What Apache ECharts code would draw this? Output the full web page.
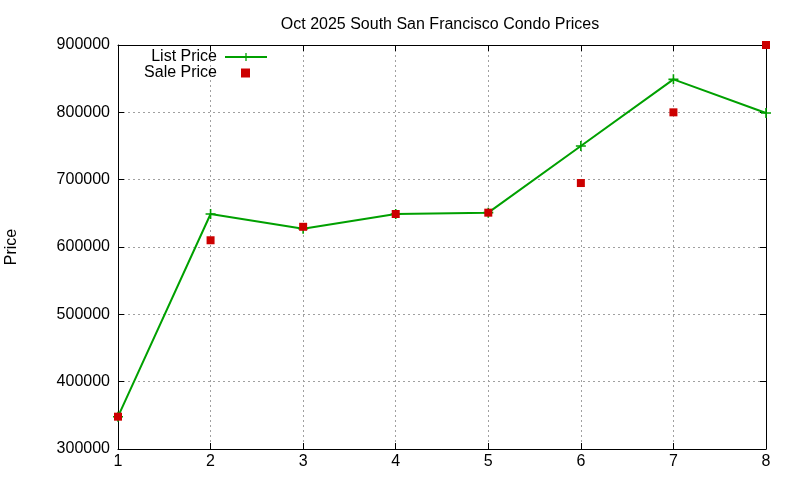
<!DOCTYPE html>
<html>
<head>
<meta charset="utf-8">
<script src="https://cdn.jsdelivr.net/npm/echarts@6/dist/echarts.min.js"></script>
<style>
  html, body { margin: 0; padding: 0; background: #fff; }
  #chart { width: 800px; height: 480px; }
</style>
</head>
<body>
<div id="chart"></div>
<script>
// month index on x, price on y
var xValues = [1, 2, 3, 4, 5, 6, 7, 8];
var listPrice = [348000, 649000, 627000, 649000, 651000, 750000, 849000, 799000];
var salePrice = [348000, 610000, 630000, 649000, 651000, 695000, 800000, 900000];

function pairs(ys) {
    return xValues.map(function (x, i) { return [x, ys[i]]; });
}

var plus = 'path://M4.2,0H5.8V4.2H10V5.8H5.8V10H4.2V5.8H0V4.2H4.2Z';
var font = 'Liberation Sans';

var myChart = echarts.init(document.getElementById('chart'));

var option = {
    backgroundColor: '#fff',
    animation: false,
    title: {
        text: 'Oct 2025 South San Francisco Condo Prices',
        left: 435,
        top: 12,
        textAlign: 'center',
        textStyle: { fontFamily: font, fontSize: 16, fontWeight: 'normal', color: '#000' }
    },
    legend: [
        {
            data: ['List Price'],
            right: 527, top: 44,
            align: 'right',
            itemWidth: 42, itemHeight: 10,
            formatter: '{t|{name}}{g|}',
            textStyle: {
                fontFamily: font, fontSize: 16, color: '#000',
                rich: { t: { fontFamily: font, fontSize: 16, color: '#000' }, g: { width: 3 } }
            }
        },
        {
            data: ['Sale Price'],
            right: 545, top: 60,
            align: 'right',
            itemWidth: 9, itemHeight: 9,
            formatter: '{t|{name}}{g|}',
            textStyle: {
                fontFamily: font, fontSize: 16, color: '#000',
                rich: { t: { fontFamily: font, fontSize: 16, color: '#000' }, g: { width: 19 } }
            }
        }
    ],
    grid: { left: 118, right: 34, top: 45, bottom: 31, containLabel: false, outerBoundsMode: 'none' },
    xAxis: [
        {
            type: 'value', min: 1, max: 8, interval: 1,
            axisLine: { show: true, lineStyle: { color: '#000', width: 1 } },
            axisTick: { inside: true, length: 6, lineStyle: { color: '#000' } },
            axisLabel: { fontFamily: font, fontSize: 16, color: '#000', margin: 5 },
            splitLine: { show: true, lineStyle: { color: '#a0a0a0', type: [2, 3] } }
        },
        {
            type: 'value', min: 1, max: 8, interval: 1, position: 'top',
            axisLine: { show: true, lineStyle: { color: '#000', width: 1 } },
            axisTick: { inside: true, length: 6, lineStyle: { color: '#000' } },
            axisLabel: { show: false },
            splitLine: { show: false }
        }
    ],
    yAxis: [
        {
            type: 'value', min: 300000, max: 900000, interval: 100000,
            name: 'Price', nameLocation: 'middle', nameRotate: 90, nameGap: 98,
            nameTextStyle: { fontFamily: font, fontSize: 16, color: '#000' },
            axisLine: { show: true, lineStyle: { color: '#000', width: 1 } },
            axisTick: { show: true, inside: true, length: 6, lineStyle: { color: '#000' } },
            axisLabel: {
                fontFamily: font, fontSize: 16, color: '#000', margin: 8,
                formatter: function (v) { return String(v); }
            },
            splitLine: { show: true, lineStyle: { color: '#a0a0a0', type: [2, 3] } }
        },
        {
            type: 'value', min: 300000, max: 900000, interval: 100000, position: 'right',
            axisLine: { show: true, lineStyle: { color: '#000', width: 1 } },
            axisTick: { show: true, inside: true, length: 6, lineStyle: { color: '#000' } },
            axisLabel: { show: false },
            splitLine: { show: false }
        }
    ],
    series: [
        {
            name: 'List Price',
            type: 'line',
            data: pairs(listPrice),
            symbol: plus,
            symbolSize: 10,
            itemStyle: { color: '#00a000' },
            lineStyle: { color: '#00a000', width: 2 },
            z: 3
        },
        {
            name: 'Sale Price',
            type: 'scatter',
            data: pairs(salePrice),
            symbol: 'rect',
            symbolSize: 8,
            itemStyle: { color: '#cc0000', opacity: 1 },
            z: 4
        }
    ]
};

myChart.setOption(option);
</script>
</body>
</html>
